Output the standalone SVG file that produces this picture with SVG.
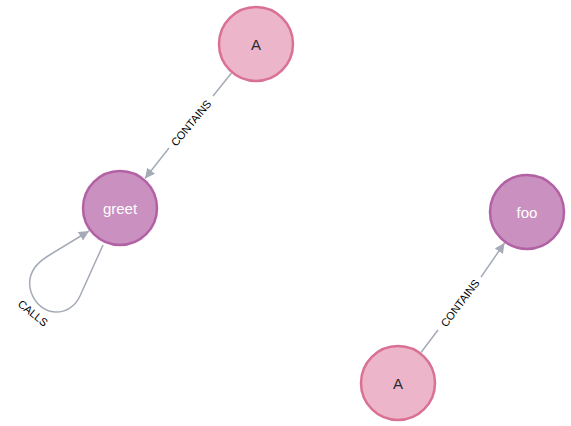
<svg xmlns="http://www.w3.org/2000/svg" width="571" height="426" viewBox="0 0 571 426">
<defs>
<style>
.edge{fill:none;stroke:#A5ABB6;stroke-width:1.5}
.lbl{font-family:"Liberation Sans",Arial,sans-serif;font-size:11px;fill:#000;text-anchor:middle;dominant-baseline:central}
.nlbl{font-family:"Liberation Sans",Arial,sans-serif;font-size:15px;text-anchor:middle;dominant-baseline:central}
.pink{fill:#ECB5C9;stroke:#DA7194;stroke-width:2.5}
.purple{fill:#C990C0;stroke:#B261A5;stroke-width:2.5}
</style>
<marker id="arr" viewBox="0 0 10 10" refX="10" refY="5" markerWidth="10" markerHeight="10" markerUnits="userSpaceOnUse" orient="auto">
<path d="M0,0 L10,5 L0,10 z" fill="#A5ABB6"/>
</marker>
</defs>
<rect width="571" height="426" fill="#fff"/>
<g id="connectors">
<g id="e1">
<path class="edge" d="M231.5,73 L213,96"/>
<path class="edge" d="M169,148 L145,178.5" marker-end="url(#arr)"/>
<text class="lbl" transform="translate(191,123) rotate(-50.3)">CONTAINS</text>
</g>
<g id="e2">
<path class="edge" d="M421,352.5 L438,330"/>
<path class="edge" d="M481,277 L504.5,243" marker-end="url(#arr)"/>
<text class="lbl" transform="translate(460,303) rotate(-53)">CONTAINS</text>
</g>
<g id="e3">
<path class="edge" d="M103,245 L80,296 C70,318 40,318 31,292 C26,275 35,264 48,256 L89,231" marker-end="url(#arr)"/>
<text class="lbl" transform="translate(33,313) rotate(39)">CALLS</text>
</g>
</g>
<g id="n-a1">
<circle class="pink" cx="256" cy="44" r="37"/>
<text class="nlbl" x="256" y="44" fill="#2A2C34">A</text>
</g>
<g id="n-greet">
<circle class="purple" cx="120" cy="208" r="37"/>
<text class="nlbl" x="120" y="208" fill="#FFFFFF">greet</text>
</g>
<g id="n-foo">
<circle class="purple" cx="527" cy="212" r="37"/>
<text class="nlbl" x="527" y="212" fill="#FFFFFF">foo</text>
</g>
<g id="n-a2">
<circle class="pink" cx="398" cy="383" r="37"/>
<text class="nlbl" x="398" y="383" fill="#2A2C34">A</text>
</g>
</svg>
